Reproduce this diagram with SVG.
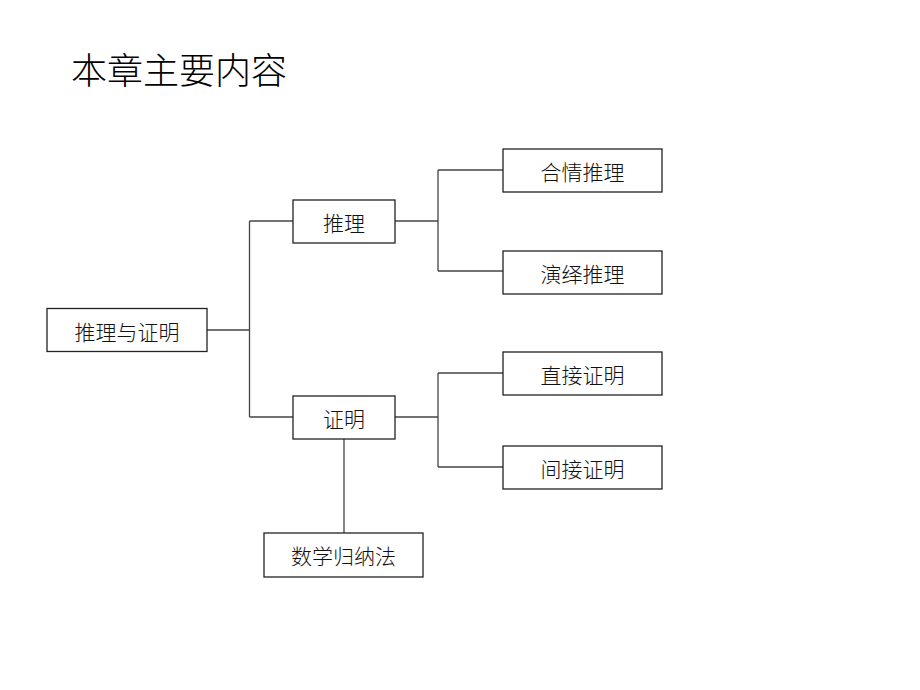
<svg xmlns="http://www.w3.org/2000/svg" width="920" height="690" viewBox="0 0 920 690">
<style>
.box{fill:#fff;stroke:#222;stroke-width:1.3}
.lbl{font-family:"Noto Sans CJK SC","Liberation Sans",sans-serif;font-size:21px;fill:#111;text-anchor:middle;font-weight:300}
.conn{fill:none;stroke:#444;stroke-width:1.3}
</style>
<rect width="920" height="690" fill="#fff"/>
<text x="71" y="84" font-family="Noto Sans CJK SC, sans-serif" font-size="36" font-weight="300" fill="#000">本章主要内容</text>
<g id="connectors">
<path class="conn" d="M207,330 H249.5 M249.5,221 V417 M249.5,221 H293 M249.5,417 H293"/>
<path class="conn" d="M395,221 H438 M438,170 V271 M438,170 H503 M438,271 H503"/>
<path class="conn" d="M395,417 H438 M438,373 V467 M438,373 H503 M438,467 H503"/>
<path class="conn" d="M344,439 V533"/>
</g>
<g id="root"><rect class="box" x="47" y="308.5" width="160" height="43"/><text class="lbl" x="127" y="340">推理与证明</text></g>
<g id="tuili"><rect class="box" x="293" y="200" width="102" height="43"/><text class="lbl" x="344" y="231">推理</text></g>
<g id="zhengming"><rect class="box" x="293" y="396" width="102" height="43"/><text class="lbl" x="344" y="427">证明</text></g>
<g id="heqing"><rect class="box" x="503" y="149" width="159" height="43"/><text class="lbl" x="582.5" y="180">合情推理</text></g>
<g id="yanyi"><rect class="box" x="503" y="251" width="159" height="43"/><text class="lbl" x="582.5" y="282">演绎推理</text></g>
<g id="zhijie"><rect class="box" x="503" y="352" width="159" height="43"/><text class="lbl" x="582.5" y="383">直接证明</text></g>
<g id="jianjie"><rect class="box" x="503" y="446" width="159" height="43"/><text class="lbl" x="582.5" y="477">间接证明</text></g>
<g id="guina"><rect class="box" x="264" y="533" width="159" height="44"/><text class="lbl" x="343.5" y="564">数学归纳法</text></g>
</svg>
